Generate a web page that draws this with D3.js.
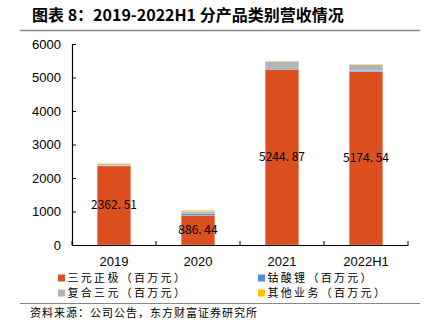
<!DOCTYPE html>
<html><head><meta charset="utf-8">
<script src="https://cdn.jsdelivr.net/npm/d3@7"></script>
<style>body{margin:0;background:#fff}svg{display:block}</style>
</head><body>
<script>
const categories = ["2019", "2020", "2021", "2022H1"];
const ternary = [2362.51, 886.44, 5244.87, 5174.54];
const cobalt = [10, 60, 35, 40];
const composite = [50, 60, 205, 170];
const other = [18, 30, 8, 15];
const seriesNames = ["三元正极（百万元）", "钴酸锂（百万元）", "复合三元（百万元）", "其他业务（百万元）"];
const colors = ["#DC4F1F", "#4A8FDB", "#B4B4B4", "#FFC000"];
const yTicks = [0, 1000, 2000, 3000, 4000, 5000, 6000];
const labelText = ["2362. 51", "886. 44", "5244. 87", "5174. 54"];

const W = 425, H = 328;
const svg = d3.select("body").append("svg").attr("width", W).attr("height", H);

svg.append("text").attr("x", 32).attr("y", 21)
  .attr("font-family", "'Noto Sans CJK SC', sans-serif").attr("font-weight", "bold")
  .attr("font-size", 16).attr("fill", "#000")
  .text("图表 8：2019-2022H1 分产品类别营收情况");
svg.append("line").attr("x1", 20).attr("x2", 420).attr("y1", 30.5).attr("y2", 30.5)
  .attr("stroke", "#888").attr("stroke-width", 1.5);

const x = d3.scaleBand().domain(categories).range([72, 408]).paddingInner(0.6).paddingOuter(0.3);
const y = d3.scaleLinear().domain([0, 6000]).range([245, 44]);

const table = categories.map((c, i) => ({cat: c, a: ternary[i], b: cobalt[i], c: composite[i], d: other[i]}));
const stack = d3.stack().keys(["a", "b", "c", "d"])(table);

svg.append("g").selectAll("g").data(stack).join("g")
  .attr("fill", (d, i) => colors[i])
  .selectAll("rect").data(d => d).join("rect")
  .attr("x", d => x(d.data.cat)).attr("width", x.bandwidth())
  .attr("y", d => y(d[1])).attr("height", d => y(d[0]) - y(d[1]))
  .attr("stroke", "#fff").attr("stroke-opacity", 0.4).attr("stroke-width", 0.6);

// y axis
const yAxis = d3.axisLeft(y).tickValues(yTicks).tickSize(-4).tickPadding(11).tickFormat(d3.format("d"));
const gy = svg.append("g").attr("transform", "translate(72,0)").call(yAxis);
gy.select(".domain").attr("stroke", "#000").attr("stroke-width", 1.2);
gy.selectAll(".tick line").attr("stroke", "#000");
gy.selectAll("text").attr("font-family", "Arial, 'Liberation Sans', sans-serif").attr("font-size", 13).attr("fill", "#000");

// x axis
const gx = svg.append("g").attr("transform", "translate(0,245)")
  .call(d3.axisBottom(x).tickSize(0).tickPadding(12));
gx.select(".domain").attr("stroke", "#000").attr("stroke-width", 1.2);
gx.selectAll("text").attr("font-family", "Arial, 'Liberation Sans', sans-serif").attr("font-size", 13).attr("fill", "#000");
const step = x.step();
const bounds = d3.range(categories.length + 1).map(i => 72 + i * step);
gx.selectAll(".sep").data(bounds).join("line").attr("class", "sep")
  .attr("x1", d => d).attr("x2", d => d).attr("y1", 0).attr("y2", -4).attr("stroke", "#000");

// value labels
svg.append("g").selectAll("text").data(stack[0]).join("text")
  .attr("x", d => x(d.data.cat) + x.bandwidth() / 2)
  .attr("y", d => (y(d[0]) + y(d[1])) / 2 + 4)
  .attr("text-anchor", "middle")
  .attr("font-family", "'Noto Sans CJK SC', sans-serif").attr("font-size", 12).attr("fill", "#000")
  .text((d, i) => labelText[i]);

// legend
const legPos = [[58, 278], [258, 278], [58, 293], [258, 293]];
const lg = svg.append("g").selectAll("g").data(seriesNames).join("g")
  .attr("transform", (d, i) => `translate(${legPos[i][0]},${legPos[i][1]})`);
lg.append("rect").attr("x", 0).attr("y", -3.5).attr("width", 7).attr("height", 7).attr("fill", (d, i) => colors[i]);
lg.append("text").attr("x", 9.5).attr("y", 4)
  .attr("font-family", "'Noto Sans CJK SC', sans-serif").attr("font-size", 11)
  .attr("letter-spacing", 2.3).attr("fill", "#000")
  .text(d => d);

svg.append("line").attr("x1", 20).attr("x2", 420).attr("y1", 303.5).attr("y2", 303.5)
  .attr("stroke", "#888").attr("stroke-width", 1);
svg.append("text").attr("x", 30).attr("y", 317)
  .attr("font-family", "'Noto Sans CJK SC', sans-serif").attr("font-size", 11)
  .attr("letter-spacing", 1).attr("fill", "#000")
  .text("资料来源：公司公告，东方财富证券研究所");
</script>
</body></html>
